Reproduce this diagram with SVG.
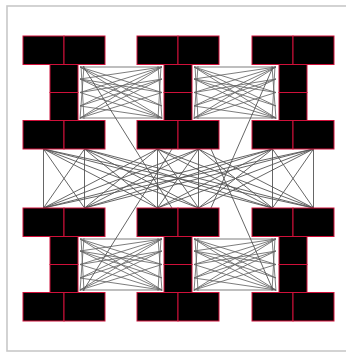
<svg xmlns="http://www.w3.org/2000/svg" xmlns:xlink="http://www.w3.org/1999/xlink" width="346" height="355" viewBox="0 0 346 355">
<style>
.n{fill:#000;stroke:#d0103a;stroke-width:1}
.e{fill:none;stroke:#555;stroke-width:0.9}
.m{fill:none;stroke:#666;stroke-width:0.85}
.frame{fill:#fff;stroke:#c8c8c8;stroke-width:1.6}
</style>
<defs>
<path id="mesh" d="M80 67H162M80 67L162 92.5M80 67L162 106M80 67L162 118M80 79L162 67M80 79L162 106M80 79L162 118M80 92.5L162 67M80 92.5L162 118M80 106L162 67M80 106L162 79M80 106L162 118M80 118L162 67M80 118L162 79M80 118L162 92.5M80 118H162M80 79L162 92.5M80 92.5L162 79M81 66L84 119M84 66L80 119M161 66L158 119M158 66L162 119"/>
</defs>
<rect class="frame" x="7" y="6" width="345" height="345"/>
<g id="connectors">
<g class="m">
<use xlink:href="#mesh" href="#mesh"/>
<use xlink:href="#mesh" href="#mesh" transform="translate(114 0)"/>
<use xlink:href="#mesh" href="#mesh" transform="translate(0 172)"/>
<use xlink:href="#mesh" href="#mesh" transform="translate(114 172)"/>
</g>
<g class="e">
<path d="M43.5 149V208M43.5 149L84.5 208M43.5 149L157.5 208M43.5 149L198.5 208M43.5 149L272.5 208M43.5 149L313.5 208
M84.5 149L43.5 208M84.5 149V208M84.5 149L157.5 208M84.5 149L198.5 208M84.5 149L272.5 208M84.5 149L313.5 208
M157.5 149L43.5 208M157.5 149L84.5 208M157.5 149V208M157.5 149L198.5 208M157.5 149L272.5 208M157.5 149L313.5 208
M198.5 149L43.5 208M198.5 149L84.5 208M198.5 149L157.5 208M198.5 149V208M198.5 149L272.5 208M198.5 149L313.5 208
M272.5 149L43.5 208M272.5 149L84.5 208M272.5 149L157.5 208M272.5 149L198.5 208M272.5 149V208M272.5 149L313.5 208
M313.5 149L43.5 208M313.5 149L84.5 208M313.5 149L157.5 208M313.5 149L198.5 208M313.5 149L272.5 208M313.5 149V208"/>
<path d="M83 66L172 208M273 67L211 208M172 149L83 291M211 149L273 290"/>
</g>
</g>
<g id="h1">
<g id="n1"><rect class="n" x="50" y="64.5" width="28" height="28"/></g>
<g id="n2"><rect class="n" x="50" y="92.5" width="28" height="28"/></g>
<g id="n3"><rect class="n" x="23" y="36" width="41" height="28.5"/></g>
<g id="n4"><rect class="n" x="64" y="36" width="41" height="28.5"/></g>
<g id="n5"><rect class="n" x="23" y="120.5" width="41" height="28.5"/></g>
<g id="n6"><rect class="n" x="64" y="120.5" width="41" height="28.5"/></g>
</g>
<g id="h2">
<g id="n7"><rect class="n" x="164" y="64.5" width="28" height="28"/></g>
<g id="n8"><rect class="n" x="164" y="92.5" width="28" height="28"/></g>
<g id="n9"><rect class="n" x="137" y="36" width="41" height="28.5"/></g>
<g id="n10"><rect class="n" x="178" y="36" width="41" height="28.5"/></g>
<g id="n11"><rect class="n" x="137" y="120.5" width="41" height="28.5"/></g>
<g id="n12"><rect class="n" x="178" y="120.5" width="41" height="28.5"/></g>
</g>
<g id="h3">
<g id="n13"><rect class="n" x="279" y="64.5" width="28" height="28"/></g>
<g id="n14"><rect class="n" x="279" y="92.5" width="28" height="28"/></g>
<g id="n15"><rect class="n" x="252" y="36" width="41" height="28.5"/></g>
<g id="n16"><rect class="n" x="293" y="36" width="41" height="28.5"/></g>
<g id="n17"><rect class="n" x="252" y="120.5" width="41" height="28.5"/></g>
<g id="n18"><rect class="n" x="293" y="120.5" width="41" height="28.5"/></g>
</g>
<g id="h4">
<g id="n19"><rect class="n" x="50" y="236.5" width="28" height="28"/></g>
<g id="n20"><rect class="n" x="50" y="264.5" width="28" height="28"/></g>
<g id="n21"><rect class="n" x="23" y="208" width="41" height="28.5"/></g>
<g id="n22"><rect class="n" x="64" y="208" width="41" height="28.5"/></g>
<g id="n23"><rect class="n" x="23" y="292.5" width="41" height="28.5"/></g>
<g id="n24"><rect class="n" x="64" y="292.5" width="41" height="28.5"/></g>
</g>
<g id="h5">
<g id="n25"><rect class="n" x="164" y="236.5" width="28" height="28"/></g>
<g id="n26"><rect class="n" x="164" y="264.5" width="28" height="28"/></g>
<g id="n27"><rect class="n" x="137" y="208" width="41" height="28.5"/></g>
<g id="n28"><rect class="n" x="178" y="208" width="41" height="28.5"/></g>
<g id="n29"><rect class="n" x="137" y="292.5" width="41" height="28.5"/></g>
<g id="n30"><rect class="n" x="178" y="292.5" width="41" height="28.5"/></g>
</g>
<g id="h6">
<g id="n31"><rect class="n" x="279" y="236.5" width="28" height="28"/></g>
<g id="n32"><rect class="n" x="279" y="264.5" width="28" height="28"/></g>
<g id="n33"><rect class="n" x="252" y="208" width="41" height="28.5"/></g>
<g id="n34"><rect class="n" x="293" y="208" width="41" height="28.5"/></g>
<g id="n35"><rect class="n" x="252" y="292.5" width="41" height="28.5"/></g>
<g id="n36"><rect class="n" x="293" y="292.5" width="41" height="28.5"/></g>
</g>
</svg>
